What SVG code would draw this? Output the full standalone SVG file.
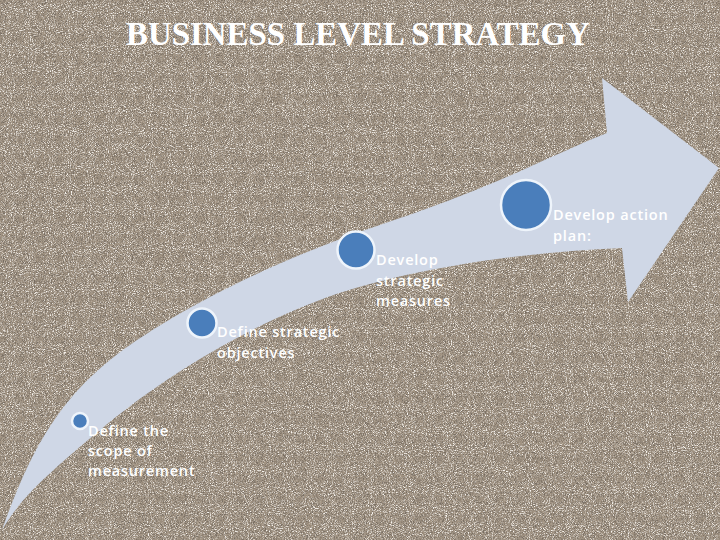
<svg xmlns="http://www.w3.org/2000/svg" width="720" height="540" viewBox="0 0 720 540">
<defs>
<filter id="grain" x="0" y="0" width="100%" height="100%">
<feTurbulence type="fractalNoise" baseFrequency="1.1" numOctaves="2" seed="3"/>
<feColorMatrix type="matrix" values="0 0 0 0 0.18  0 0 0 0 0.15  0 0 0 0 0.12  -3.2 0 0 0 1.85"/>
</filter>
<filter id="grain2" x="0" y="0" width="100%" height="100%">
<feTurbulence type="fractalNoise" baseFrequency="1.05" numOctaves="2" seed="11"/>
<feColorMatrix type="matrix" values="0 0 0 0 0.95  0 0 0 0 0.92  0 0 0 0 0.88  3.2 0 0 0 -1.6"/>
</filter>
</defs>
<style>
.lbl{font-family:"Open Sans","Liberation Sans",sans-serif;font-size:14.5px;font-weight:600;letter-spacing:0.8px;fill:#ffffff}
.dot{fill:#4a7ebb;stroke:#eef4fb;stroke-width:2.5}
.title{font-family:"Liberation Serif","DejaVu Serif",serif;font-weight:bold;font-size:33px;fill:#ffffff}
</style>
<rect width="720" height="540" fill="#a29483"/>
<rect width="720" height="540" filter="url(#grain)"/>
<rect width="720" height="540" filter="url(#grain2)"/>
<text class="title" x="358" y="45" text-anchor="middle" textLength="464" lengthAdjust="spacingAndGlyphs">BUSINESS LEVEL STRATEGY</text>
<g id="arrow">
<path d="M2,530 C30,450 60,400 110,360 S260,265 380,225 S540,160 607,133 L602,78 L719,168 L628,302 L622,248 C520,252 400,270 320,300 S160,380 100,430 S20,500 2,530 Z" fill="#cfd7e6"/>
</g>
<g id="step1">
<circle class="dot" cx="80" cy="421" r="8"/>
<text class="lbl" x="88" y="436"><tspan x="88" y="436">Define the</tspan><tspan x="88" y="456">scope of</tspan><tspan x="88" y="476">measurement</tspan></text>
</g>
<g id="step2">
<circle class="dot" cx="202" cy="323" r="14.5"/>
<text class="lbl" x="217" y="337"><tspan x="217" y="337">Define strategic</tspan><tspan x="217" y="358">objectives</tspan></text>
</g>
<g id="step3">
<circle class="dot" cx="356" cy="250" r="18.5"/>
<text class="lbl" x="376" y="265"><tspan x="376" y="265">Develop</tspan><tspan x="376" y="285.5">strategic</tspan><tspan x="376" y="306">measures</tspan></text>
</g>
<g id="step4">
<circle class="dot" cx="526" cy="205" r="25"/>
<text class="lbl" x="553" y="220"><tspan x="553" y="220">Develop action</tspan><tspan x="553" y="241">plan:</tspan></text>
</g>
<g id="connectors"></g>
</svg>
